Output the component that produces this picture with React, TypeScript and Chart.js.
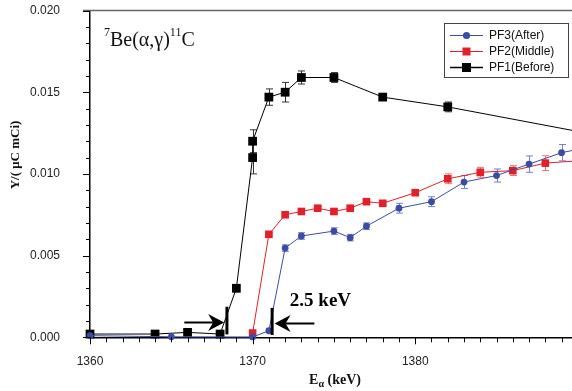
import React, { useEffect, useRef } from 'react';
import { Chart, registerables } from 'chart.js';
Chart.register(...registerables);

// ---- data ----
const pf1X = [1360, 1364, 1366, 1368, 1369, 1370, 1370, 1371, 1372, 1373, 1375, 1378, 1382, 1390];
const pf1Y = [0.0002, 0.0002, 0.0003, 0.0002, 0.0030, 0.0110, 0.0120, 0.0147, 0.0150, 0.0159, 0.0159, 0.0147, 0.0141, 0.0126];
const pf1Err = [0, 0, 0, 0, 0.0002, 0.0010, 0.0007, 0.0005, 0.0006, 0.0004, 0.0003, 0, 0.0003, 0];

const pf2X = [1370, 1371, 1372, 1373, 1374, 1375, 1376, 1377, 1378, 1380, 1382, 1384, 1386, 1388, 1390];
const pf2Y = [0.00026, 0.0063, 0.0075, 0.0077, 0.0079, 0.0077, 0.0079, 0.0083, 0.0082, 0.00885, 0.0097, 0.0101, 0.0102, 0.01066, 0.0108];
const pf2Err = [0, 0.0001, 0.0001, 0.0001, 0.0001, 0.0001, 0.0001, 0.00015, 0.0001, 0.0001, 0.0003, 0.0003, 0.0003, 0.00045, 0];

const pf3X = [1360, 1365, 1370, 1371, 1372, 1373, 1375, 1376, 1377, 1379, 1381, 1383, 1385, 1387, 1389, 1391];
const pf3Y = [0.0001, 0.00003, 0.00002, 0.0004, 0.00546, 0.0062, 0.0065, 0.0061, 0.0068, 0.0079, 0.0083, 0.0095, 0.0099, 0.0106, 0.0113, 0.0117];
const pf3Err = [0, 0, 0, 0.0001, 0.0002, 0.0002, 0.0002, 0.0002, 0.0002, 0.0003, 0.0003, 0.0004, 0.0004, 0.0005, 0.0005, 0];

const seriesNames = ['PF3(After)', 'PF2(Middle)', 'PF1(Before)'];
const seriesColors = ['#3b4ca6', '#e2202a', '#000000'];
const errColors = ['#7283c9', '#ee7076', '#333333'];

const xTicks = [1360, 1370, 1380];
const yTicks = [0, 0.005, 0.01, 0.015, 0.02];
const xMin = 1360;
const xMax = 1389.64;
const yMin = 0;
const yMax = 0.02;

// annotations (data units)
const arrowIn = { from: 1365.8, tip: 1368.25, y: 0.00095, bar: 1368.42, lo: 0.00018, hi: 0.00187 };
const arrowOut = { from: 1373.8, tip: 1371.35, y: 0.00086, bar: 1371.2, lo: 0.00014, hi: 0.0018 };
const gapLabel = { text: '2.5 keV', x: 1372.29, y: 0.0019 };
const reactionPos = { x: 1360.86, y: 0.0178 };

const toPts = (xs: number[], ys: number[]) => xs.map((x, i) => ({ x, y: ys[i] }));

const decor = {
  id: 'decor',
  beforeDatasetsDraw(chart: any) {
    const ctx = chart.ctx;
    const xs = chart.scales.x;
    const ys = chart.scales.y;
    const sets = [
      [pf3X, pf3Y, pf3Err, errColors[0]],
      [pf2X, pf2Y, pf2Err, errColors[1]],
      [pf1X, pf1Y, pf1Err, errColors[2]],
    ] as any[];
    ctx.save();
    ctx.lineWidth = 1;
    for (let s = sets.length - 1; s >= 0; s--) {
      const [X, Y, E, c] = sets[s];
      ctx.strokeStyle = c;
      for (let i = 0; i < X.length; i++) {
        if (!E[i] || X[i] > xMax) continue;
        const px = Math.round(xs.getPixelForValue(X[i])) + 0.5;
        const y1 = ys.getPixelForValue(Y[i] + E[i]);
        const y2 = ys.getPixelForValue(Y[i] - E[i]);
        ctx.beginPath();
        ctx.moveTo(px, y1);
        ctx.lineTo(px, y2);
        ctx.moveTo(px - 3.5, y1);
        ctx.lineTo(px + 3.5, y1);
        ctx.moveTo(px - 3.5, y2);
        ctx.lineTo(px + 3.5, y2);
        ctx.stroke();
      }
    }
    ctx.restore();
  },
  afterDraw(chart: any) {
    const ctx = chart.ctx;
    const xs = chart.scales.x;
    const ys = chart.scales.y;
    const a = chart.chartArea;
    ctx.save();
    // top border
    ctx.strokeStyle = '#666';
    ctx.lineWidth = 1.5;
    ctx.beginPath();
    ctx.moveTo(a.left - 7, a.top);
    ctx.lineTo(a.right, a.top);
    ctx.stroke();
    // y ticks
    ctx.strokeStyle = '#000';
    ctx.lineWidth = 1;
    for (let k = 0; k <= 20; k++) {
      const v = k * 0.001;
      const py = Math.round(ys.getPixelForValue(v)) + 0.5;
      const len = k % 5 === 0 ? 7 : 4;
      ctx.beginPath();
      ctx.moveTo(a.left - len, py);
      ctx.lineTo(a.left, py);
      ctx.stroke();
    }
    // x ticks
    for (let v = 1360; v <= xMax; v++) {
      const px = Math.round(xs.getPixelForValue(v)) + 0.5;
      const len = v % 10 === 0 ? 7 : 5;
      ctx.beginPath();
      ctx.moveTo(px, a.bottom);
      ctx.lineTo(px, a.bottom + len);
      ctx.stroke();
    }
    // legend
    const lx = 444.5, ly = 23.5, lw = 124, lh = 54;
    ctx.fillStyle = '#fff';
    ctx.fillRect(lx, ly, lw, lh);
    ctx.strokeStyle = '#444';
    ctx.lineWidth = 1;
    ctx.strokeRect(lx, ly, lw, lh);
    ctx.font = "12px 'Liberation Sans', Arial, sans-serif";
    ctx.textBaseline = 'middle';
    ctx.textAlign = 'left';
    for (let i = 0; i < 3; i++) {
      const ry = 35.5 + i * 16;
      const c = seriesColors[i];
      ctx.strokeStyle = c;
      ctx.lineWidth = i === 2 ? 1.5 : 1;
      ctx.beginPath();
      ctx.moveTo(450, ry);
      ctx.lineTo(483, ry);
      ctx.stroke();
      ctx.fillStyle = c;
      if (i === 0) {
        ctx.beginPath();
        ctx.arc(466.5, ry, 3.6, 0, Math.PI * 2);
        ctx.fill();
      } else {
        const h = i === 2 ? 4.5 : 4;
        ctx.fillRect(466.5 - h, ry - h, 2 * h, 2 * h);
      }
      ctx.fillStyle = '#111';
      ctx.fillText(seriesNames[i], 489, ry + 0.5);
    }
    // reaction title
    let tx = xs.getPixelForValue(reactionPos.x);
    const tb = ys.getPixelForValue(reactionPos.y);
    ctx.fillStyle = '#111';
    ctx.textBaseline = 'alphabetic';
    const big = "20px 'Liberation Serif', 'Times New Roman', serif";
    const small = "12px 'Liberation Serif', 'Times New Roman', serif";
    const parts: [string, boolean][] = [['7', true], ['Be(\u03B1,\u03B3)', false], ['11', true], ['C', false]];
    for (const [t, sup] of parts) {
      ctx.font = sup ? small : big;
      ctx.fillText(t, tx, sup ? tb - 10 : tb);
      tx += ctx.measureText(t).width;
    }
    // arrows
    const drawArrow = (ar: any) => {
      const y = Math.round(ys.getPixelForValue(ar.y)) + 0.5;
      const fx = xs.getPixelForValue(ar.from);
      const tpx = xs.getPixelForValue(ar.tip);
      const dir = tpx > fx ? 1 : -1;
      const back = tpx - dir * 16;
      const notch = tpx - dir * 11;
      ctx.strokeStyle = '#000';
      ctx.lineWidth = 2;
      ctx.beginPath();
      ctx.moveTo(fx, y);
      ctx.lineTo(notch, y);
      ctx.stroke();
      ctx.fillStyle = '#000';
      ctx.beginPath();
      ctx.moveTo(tpx, y);
      ctx.lineTo(back, y - 8.5);
      ctx.lineTo(notch, y);
      ctx.lineTo(back, y + 8.5);
      ctx.closePath();
      ctx.fill();
      const bx = xs.getPixelForValue(ar.bar);
      ctx.lineWidth = 3;
      ctx.beginPath();
      ctx.moveTo(bx, ys.getPixelForValue(ar.hi));
      ctx.lineTo(bx, ys.getPixelForValue(ar.lo));
      ctx.stroke();
    };
    drawArrow(arrowIn);
    drawArrow(arrowOut);
    ctx.fillStyle = '#000';
    ctx.font = "bold 19px 'Liberation Serif', 'Times New Roman', serif";
    ctx.fillText(gapLabel.text, xs.getPixelForValue(gapLabel.x), ys.getPixelForValue(gapLabel.y));
    // y axis title
    ctx.save();
    ctx.translate(15.5, 155);
    ctx.rotate(-Math.PI / 2);
    ctx.font = "bold 13px 'Liberation Serif', 'Times New Roman', serif";
    ctx.textAlign = 'center';
    ctx.textBaseline = 'middle';
    ctx.fillStyle = '#111';
    ctx.fillText('Y/( \u03BCC mCi)', 0, 0);
    ctx.restore();
    // x axis title
    const f1 = "bold 14px 'Liberation Serif', 'Times New Roman', serif";
    const f2 = "bold 10px 'Liberation Serif', 'Times New Roman', serif";
    ctx.font = f1;
    const wE = ctx.measureText('E').width;
    const wR = ctx.measureText(' (keV)').width;
    ctx.font = f2;
    const wA = ctx.measureText('\u03B1').width;
    let sx = (a.left + a.right) / 2 + 4 - (wE + wA + wR) / 2;
    const sb = 384;
    ctx.fillStyle = '#111';
    ctx.textAlign = 'left';
    ctx.textBaseline = 'alphabetic';
    ctx.font = f1;
    ctx.fillText('E', sx, sb);
    sx += wE;
    ctx.font = f2;
    ctx.fillText('\u03B1', sx, sb + 3);
    sx += wA;
    ctx.font = f1;
    ctx.fillText(' (keV)', sx, sb);
    ctx.restore();
  },
};

const zeroPad = (s: any) => {
  s.paddingTop = 0;
  s.paddingBottom = 0;
  s.paddingLeft = 0;
  s.paddingRight = 0;
};

export default function App() {
  const ref = useRef<HTMLCanvasElement>(null);
  useEffect(() => {
    if (!ref.current) return;
    const ds = (name: string, xs: number[], ys: number[], color: string, style: string, r: number, bw: number) => ({
      label: name,
      data: toPts(xs, ys),
      borderColor: color,
      backgroundColor: color,
      borderWidth: bw,
      pointStyle: style,
      pointRadius: r,
      pointBorderWidth: 0,
      pointBackgroundColor: color,
      tension: 0,
      clip: false as any,
    });
    const chart = new Chart(ref.current, {
      type: 'line',
      data: {
        datasets: [
          ds(seriesNames[0], pf3X, pf3Y, seriesColors[0], 'circle', 3.4, 1),
          ds(seriesNames[1], pf2X, pf2Y, seriesColors[1], 'rect', 5.4, 1),
          ds(seriesNames[2], pf1X, pf1Y, seriesColors[2], 'rect', 6.2, 1),
        ],
      },
      options: {
        responsive: false,
        animation: false,
        layout: { autoPadding: false, padding: { top: 10.5, left: 0, right: 0, bottom: 0 } },
        plugins: { legend: { display: false }, tooltip: { enabled: false } },
        scales: {
          x: {
            type: 'linear',
            min: xMin,
            max: xMax,
            afterBuildTicks: (s: any) => { s.ticks = xTicks.map((v) => ({ value: v })); },
            afterFit: (s: any) => { s.height = 53.7; zeroPad(s); },
            grid: { display: false },
            border: { display: true, color: '#000', width: 1.5 },
            ticks: {
              padding: 9,
              maxRotation: 0,
              autoSkip: false,
              color: '#222',
              font: { family: "'Liberation Sans', Arial, sans-serif", size: 12 },
              callback: (v: any) => String(v),
            },
          },
          y: {
            type: 'linear',
            min: yMin,
            max: yMax,
            afterBuildTicks: (s: any) => { s.ticks = yTicks.map((v) => ({ value: v })); },
            afterFit: (s: any) => { s.width = 90; zeroPad(s); },
            grid: { display: false },
            border: { display: true, color: '#000', width: 1.5 },
            ticks: {
              padding: 22,
              color: '#222',
              font: { family: "'Liberation Sans', Arial, sans-serif", size: 12 },
              callback: (v: any) => Number(v).toFixed(3),
            },
          },
        },
      },
      plugins: [decor],
    });
    return () => chart.destroy();
  }, []);
  return (
    <div style={{ position: 'fixed', left: 0, top: 0, width: 572, height: 391, background: '#fff' }}>
      <canvas ref={ref} width={572} height={391} style={{ display: 'block' }} />
    </div>
  );
}
